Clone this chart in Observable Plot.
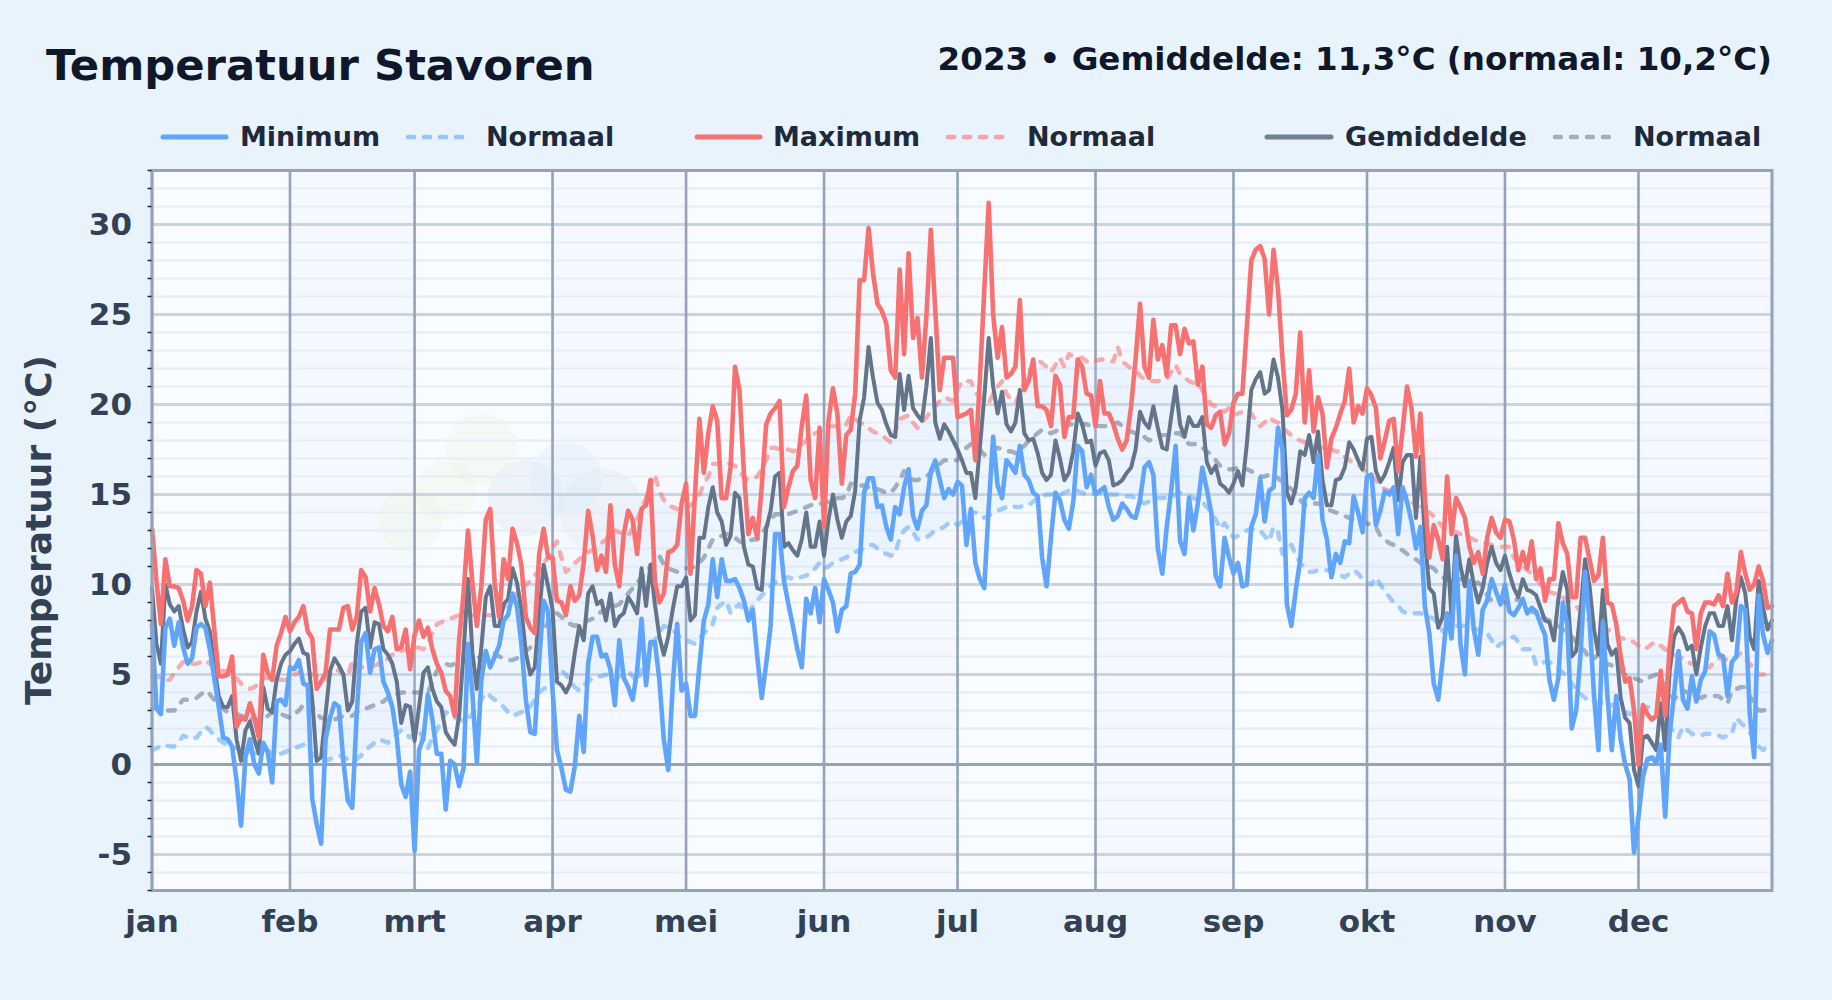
<!DOCTYPE html>
<html lang="nl">
<head>
<meta charset="utf-8">
<title>Temperatuur Stavoren</title>
<script src="https://cdn.jsdelivr.net/npm/d3@7"></script>
<script src="https://cdn.jsdelivr.net/npm/@observablehq/plot@0.6"></script>
<style>
html,body{margin:0;padding:0;width:1832px;height:1000px;overflow:hidden;background:#e9f3fc;font-family:"DejaVu Sans",sans-serif;font-weight:700}
#page{position:relative;width:1832px;height:1000px}
#title{position:absolute;left:46px;top:39px;font-size:43.3px;line-height:52px;color:#0f172a;white-space:nowrap}
#subtitle{position:absolute;right:60px;top:38px;font-size:32.55px;line-height:42px;color:#0f172a;white-space:nowrap}
.lab{position:absolute;top:121px;font-size:27px;line-height:32px;color:#1e293b;white-space:nowrap}
.sw{position:absolute;top:128px;height:18px;overflow:visible}
#ylabel{position:absolute;left:39px;top:530px;font-size:36px;line-height:40px;color:#334155;white-space:nowrap;transform:translate(-50%,-50%) rotate(-90deg)}
#chart{position:absolute;left:0;top:150px}
</style>
</head>
<body>
<div id="page">
<div id="title"></div>
<div id="subtitle"></div>
<div id="legend"></div>
<div id="chart"></div>
<div id="ylabel"></div>
</div>
<script>
const titleText = "Temperatuur Stavoren";
const subtitleText = "2023 • Gemiddelde: 11,3°C (normaal: 10,2°C)";
const yLabel = "Temperatuur (°C)";
const monthLabels = ["jan","feb","mrt","apr","mei","jun","jul","aug","sep","okt","nov","dec"];
const majorTicks = [-5,0,5,10,15,20,25,30];
const minorTicks = [-7,-6,-4,-3,-2,-1,1,2,3,4,6,7,8,9,11,12,13,14,16,17,18,19,21,22,23,24,26,27,28,29,31,32,33];

const minimum = [
7.8,3.1,2.8,7.6,8.1,6.6,7.9,6.5,5.6,5.9,
7.6,7.8,7.6,6.4,4.8,3.2,1.5,1.4,1.0,-0.9,
-3.4,0.4,1.4,0.0,-0.5,1.2,0.7,-1.0,3.5,3.6,
3.3,5.4,5.3,5.8,4.5,4.4,-1.9,-3.3,-4.4,1.4,
2.6,3.4,3.2,0.2,-2.0,-2.4,2.8,6.8,7.3,5.1,
6.4,6.5,4.6,4.0,3.2,1.5,-1.1,-1.8,-0.4,-4.8,
0.8,1.5,3.9,2.5,0.6,0.6,-2.5,0.2,0.0,-1.2,
-0.2,6.7,3.9,0.1,4.7,6.3,5.4,6.0,6.6,8.0,
8.3,9.5,8.8,6.7,3.6,1.8,1.7,5.8,9.1,8.5,
4.1,0.8,-0.2,-1.4,-1.5,-0.1,2.7,0.7,5.6,7.1,
7.1,6.0,6.1,5.3,3.3,6.9,4.8,4.3,3.6,5.2,
8.1,4.4,6.8,6.8,4.7,1.4,-0.3,4.4,7.8,4.1,
4.5,2.7,2.7,5.5,8.0,8.9,11.4,9.3,11.4,10.2,
10.2,10.3,9.8,9.1,8.0,8.6,6.0,3.7,5.6,7.7,
12.8,12.8,10.2,8.9,7.7,6.4,5.4,9.2,8.4,9.8,
7.9,10.3,9.7,9.0,7.4,8.6,8.8,10.6,10.7,11.1,
15.1,15.9,15.9,14.3,14.4,13.2,12.5,14.3,13.9,15.4,
16.4,13.8,13.1,14.1,14.4,16.3,16.9,15.8,14.8,15.3,
15.0,15.7,15.5,12.2,14.2,11.2,10.3,9.8,14.3,18.2,
15.5,14.8,16.9,16.6,16.2,17.7,16.1,15.8,15.1,14.9,
11.5,9.9,12.6,15.1,14.7,13.6,13.1,14.6,17.7,17.4,
15.4,16.1,15.0,15.2,15.4,14.3,13.6,13.8,14.5,14.2,
13.8,13.7,14.7,16.5,16.8,16.1,12.0,10.6,13.2,15.2,
17.7,12.4,11.7,14.8,13.0,14.5,16.5,15.3,14.0,10.5,
9.9,12.6,11.5,10.6,11.2,9.9,10.0,13.2,13.9,15.9,
13.5,15.2,15.4,18.7,17.5,8.9,7.7,9.7,11.4,14.8,
15.1,14.8,17.2,13.6,12.5,10.4,11.7,11.2,12.4,12.3,
14.9,14.0,12.9,16.0,16.1,13.3,14.1,15.2,15.0,15.4,
12.8,15.4,14.6,13.5,12.0,13.2,8.8,7.3,4.5,3.6,
5.8,8.4,7.0,11.6,6.7,5.0,10.2,7.5,6.1,8.6,
9.1,10.3,9.6,8.9,10.0,8.5,8.3,8.7,9.2,8.4,
8.7,8.5,7.8,7.2,4.7,3.6,4.8,9.0,7.8,2.0,
3.0,6.2,10.7,8.0,3.9,0.8,7.9,3.9,0.8,3.8,
1.4,0.0,-0.8,-4.9,-2.9,-0.7,0.3,0.4,0.1,1.1,
-2.9,1.7,3.9,6.3,3.6,3.1,4.9,3.5,4.7,5.2,
7.4,7.2,6.1,6.0,3.8,5.7,6.0,8.8,8.6,2.8,
0.4,9.4,7.2,6.2,6.9];

const maximum = [
13.1,10.2,7.8,11.4,9.9,9.9,9.8,9.1,8.0,8.8,
10.8,10.6,8.8,10.1,7.5,4.9,4.9,5.0,6.0,2.1,
2.6,2.5,3.4,2.6,1.5,6.1,5.1,4.7,6.6,7.3,
8.2,7.4,7.9,8.2,8.8,7.4,7.0,4.2,4.6,5.1,
7.5,7.5,7.5,8.7,8.8,7.5,8.2,10.8,10.4,8.5,
9.8,8.9,7.7,7.4,8.2,6.4,6.5,7.5,5.3,7.2,
8.0,7.1,7.6,6.4,5.6,5.1,4.1,3.8,2.7,6.9,
9.5,13.0,10.1,7.7,9.9,13.6,14.2,10.1,8.2,11.4,
10.3,13.1,12.3,11.1,8.2,7.6,7.3,11.7,13.1,11.5,
11.5,9.1,9.0,8.3,9.9,9.1,9.4,11.2,14.1,12.7,
10.8,11.6,10.7,14.4,11.1,9.9,12.8,14.1,13.6,11.7,
14.2,14.4,15.8,10.2,9.0,9.5,11.8,11.9,12.2,14.5,
15.6,10.6,15.0,19.2,16.2,18.4,19.9,19.1,14.8,14.8,
16.5,22.1,20.8,16.2,12.8,13.7,12.6,15.4,18.9,19.5,
19.8,20.2,14.3,15.4,16.3,16.6,18.8,20.5,15.8,14.8,
18.7,13.2,19.1,20.9,19.5,15.6,18.3,18.6,20.6,26.9,
26.9,29.8,27.3,25.6,25.2,24.5,21.9,21.5,27.5,22.8,
28.4,23.7,24.8,21.5,24.9,29.7,25.2,20.8,22.6,22.6,
22.6,19.3,19.4,19.5,19.7,16.9,21.3,26.3,31.2,25.0,
22.6,24.3,21.5,21.7,22.1,25.8,20.8,21.3,22.5,19.9,
19.9,19.7,18.8,21.6,21.1,18.2,19.3,19.3,22.5,22.1,
20.6,20.5,18.8,21.3,19.5,19.5,18.9,18.1,17.5,18.0,
19.9,22.5,25.6,22.1,21.5,24.7,22.5,23.3,21.6,24.4,
24.4,22.8,24.2,23.4,23.5,21.1,22.1,18.9,18.7,19.4,
19.6,17.8,18.4,20.1,20.6,20.6,24.3,28.0,28.6,28.8,
28.1,25.0,28.6,26.4,22.6,19.4,19.7,20.6,24.0,19.0,
21.9,18.5,20.4,19.5,16.5,18.1,18.7,19.5,20.2,22.0,
19.0,19.9,19.5,20.9,20.5,19.8,17.0,18.0,19.1,19.2,
16.3,18.6,21.0,19.8,17.1,19.5,14.9,11.5,13.3,12.5,
11.4,16.0,12.8,14.8,14.3,13.7,12.1,11.2,11.8,10.6,
12.6,13.7,12.9,12.6,13.6,13.5,12.5,10.8,11.8,10.9,
12.4,10.3,10.9,9.1,10.3,10.3,13.4,12.3,11.7,9.3,
9.3,12.6,12.6,11.4,10.2,10.5,12.6,9.0,8.9,7.8,
6.0,4.6,4.8,3.0,0.0,3.3,2.8,2.5,2.7,5.2,
2.7,6.5,8.8,9.0,9.2,8.5,8.4,6.4,8.4,9.0,
9.0,8.9,9.4,8.8,10.6,9.0,9.6,11.8,10.6,9.7,
10.0,11.0,10.2,8.7,8.8];

const gemiddelde = [
9.8,6.7,5.6,10.0,8.9,8.5,8.8,7.5,6.5,6.8,
8.5,9.6,8.1,7.4,5.4,3.8,3.2,3.2,3.8,1.4,
0.2,1.9,2.4,1.4,0.6,4.3,3.1,2.9,4.7,5.6,
6.1,6.3,6.7,7.0,6.2,6.1,3.6,0.2,0.4,2.8,
5.2,5.9,5.5,5.0,3.0,3.5,6.7,8.5,8.7,6.5,
7.9,7.8,6.4,6.1,5.6,4.6,2.3,3.3,3.2,1.3,
3.2,5.1,5.4,4.2,3.5,3.2,1.8,1.4,1.1,2.7,
6.2,10.3,6.2,4.2,6.5,9.3,9.9,7.7,7.7,8.9,
9.2,10.9,10.1,8.6,6.2,5.0,5.4,8.4,11.1,9.9,
8.6,4.6,4.4,4.0,4.5,6.2,7.7,6.9,9.5,9.9,
8.9,9.1,8.0,9.5,7.7,8.2,8.4,9.3,8.9,8.4,
10.9,8.8,11.1,8.9,7.1,6.1,7.1,8.6,9.9,9.9,
10.4,8.0,8.3,12.6,12.6,14.3,15.4,14.0,13.5,12.2,
12.7,15.1,14.8,12.1,11.1,11.0,9.8,9.7,13.1,14.1,
16.0,16.2,12.1,12.3,11.9,11.6,12.5,14.0,12.1,12.1,
13.5,11.6,13.6,15.0,13.6,12.6,13.5,13.8,15.2,19.1,
20.4,23.2,21.5,20.1,19.7,18.9,18.3,18.2,21.7,19.7,
21.6,19.8,19.4,19.1,21.0,23.7,19.0,18.1,18.9,18.5,
18.0,17.5,16.9,16.2,16.2,14.8,17.6,20.4,23.7,21.0,
19.5,20.7,18.9,18.5,19.0,20.8,18.4,18.0,18.1,17.3,
16.2,15.8,16.1,18.0,17.0,15.8,16.2,17.4,19.5,18.9,
17.9,18.0,16.6,17.3,17.4,16.9,15.5,15.6,15.8,16.2,
16.5,17.5,19.6,19.0,18.7,19.9,18.7,17.6,17.5,19.3,
21.0,18.9,18.2,19.3,18.8,18.8,19.3,16.8,16.2,16.6,
15.6,15.4,15.1,15.6,16.3,15.5,17.8,20.8,21.4,21.8,
20.6,20.8,22.5,21.5,19.7,15.1,14.5,15.4,17.4,17.2,
18.3,16.8,18.5,15.8,14.4,14.4,15.8,15.9,16.5,17.9,
17.5,16.9,16.4,18.1,18.2,16.3,15.7,16.1,16.8,17.6,
14.7,16.8,17.2,17.2,13.7,17.1,12.5,9.8,9.5,7.6,
8.2,12.1,8.2,12.7,11.0,9.9,11.4,10.0,9.0,9.8,
11.2,12.1,11.2,10.8,11.6,10.6,9.8,9.3,10.3,9.7,
9.6,9.4,8.7,8.0,7.9,6.9,9.2,10.7,9.7,6.0,
6.3,8.6,11.4,9.9,7.5,6.1,9.7,6.7,6.1,6.4,
3.7,2.6,2.3,-0.3,-1.2,1.5,1.6,1.2,0.8,3.4,
0.8,5.2,7.1,7.6,7.2,6.4,6.6,5.0,6.5,7.7,
8.4,8.4,7.7,7.7,8.8,6.9,9.2,10.4,9.5,7.1,
6.4,10.2,8.7,7.5,8.0];

const normaalMin = [
0.8,0.9,1.0,1.1,1.0,1.0,1.2,1.6,1.5,1.4,
1.5,1.8,2.1,1.9,1.6,1.4,1.2,1.1,1.0,0.9,
0.8,0.7,0.7,0.6,0.7,0.7,0.8,0.6,0.5,0.6,
0.7,0.8,0.9,1.0,1.1,0.8,0.6,0.4,0.3,0.2,
0.3,0.4,0.5,0.4,0.3,0.2,0.3,0.5,0.8,1.0,
1.2,1.4,1.3,1.2,1.4,1.7,1.9,1.7,1.5,1.7,
1.9,1.4,0.9,1.5,1.9,2.4,2.9,2.8,2.6,2.5,
2.4,2.5,2.8,3.2,3.6,4.0,3.8,3.6,3.4,3.2,
2.9,2.7,2.8,2.9,3.0,3.2,3.6,4.0,4.2,4.3,
4.4,4.8,5.2,5.0,4.6,4.3,4.1,4.4,4.6,4.8,
4.9,4.9,5.0,4.9,4.9,4.9,5.0,5.2,4.9,4.6,
5.2,5.8,6.4,6.9,7.3,7.7,7.6,7.5,7.2,7.0,
6.9,6.8,6.7,7.0,7.3,7.5,7.8,8.7,8.9,9.1,
8.4,8.7,8.9,8.6,8.4,8.8,9.1,9.4,9.6,9.9,
10.1,10.3,10.3,10.4,10.3,10.4,10.4,10.5,10.6,10.9,
11.2,10.9,11.0,11.2,11.3,11.4,11.5,11.7,11.8,11.9,
12.0,12.2,12.2,12.0,11.8,11.7,11.6,11.7,12.6,13.0,
13.2,12.9,12.5,12.5,12.6,12.8,13.0,13.1,13.2,13.4,
13.5,13.3,13.5,13.7,13.9,14.0,13.9,13.7,13.8,14.0,
14.1,14.2,14.3,14.4,14.3,14.3,14.4,14.4,14.6,14.8,
14.9,15.0,15.0,15.0,15.0,15.1,15.2,15.3,15.2,15.1,
15.0,15.0,15.1,15.1,15.0,15.0,15.0,15.0,15.0,14.9,
14.9,14.8,14.6,14.5,14.6,14.7,14.8,14.8,14.8,14.8,
15.0,15.1,15.0,14.9,14.8,14.7,14.6,14.3,14.0,13.6,
13.1,13.4,13.0,12.6,12.7,12.9,13.0,13.1,13.0,13.0,
12.7,12.4,13.2,12.9,11.7,12.0,12.2,11.6,11.2,10.9,
10.7,10.7,10.8,10.8,10.8,10.7,10.6,10.5,10.4,10.6,
10.8,10.6,10.3,10.1,10.0,10.4,10.0,9.6,9.3,9.0,
8.8,8.5,8.4,8.4,8.4,8.4,8.3,8.2,8.1,7.8,
7.4,7.5,7.6,7.7,7.7,7.7,7.6,7.5,7.5,7.4,
7.3,6.9,6.5,6.7,6.8,7.0,7.1,6.8,6.4,6.4,
6.4,5.5,5.6,5.7,5.7,5.5,5.3,5.1,4.9,4.5,
4.1,3.9,3.7,3.5,3.4,3.4,3.4,3.4,3.3,3.2,
3.0,2.9,2.8,2.9,3.0,3.1,3.2,3.1,3.0,2.7,
2.4,2.1,1.8,1.5,2.1,1.9,1.7,1.6,1.6,1.7,
1.7,1.7,1.6,1.5,1.6,1.7,2.6,2.3,2.1,1.8,
1.4,1.0,0.8,1.0,1.1];

const normaalMax = [
4.9,4.9,4.8,4.7,4.7,5.1,5.4,5.7,5.7,5.6,
5.6,5.7,5.8,5.6,5.4,5.3,5.2,5.2,5.1,4.8,
4.5,4.3,4.2,4.3,4.5,4.8,4.8,4.8,4.8,4.7,
4.7,4.8,5.0,5.1,5.2,5.1,5.0,4.9,4.8,4.7,
5.0,5.3,5.2,5.0,4.9,5.8,5.6,5.4,5.4,5.5,
5.5,5.6,5.7,5.9,6.1,6.3,6.3,6.4,6.4,6.5,
6.5,6.4,6.7,7.3,7.8,7.9,8.0,8.1,8.2,8.3,
8.4,8.3,8.3,8.3,8.3,8.3,8.3,8.3,8.5,8.7,
9.0,9.2,9.5,9.8,10.0,10.2,10.5,10.8,11.2,11.5,
12.0,12.4,11.5,10.7,10.9,11.2,11.4,11.6,11.8,11.9,
12.1,12.3,12.5,12.8,13.0,12.9,12.8,12.7,13.1,13.6,
14.2,14.8,15.5,16.1,15.2,14.7,14.4,14.3,14.2,14.2,
14.3,14.4,14.6,15.0,15.6,16.0,16.7,16.7,16.8,16.8,
16.7,16.6,16.3,16.0,15.8,15.9,16.0,16.4,16.9,17.6,
17.6,17.5,17.5,17.5,17.4,17.5,17.8,18.0,18.3,18.4,
18.5,18.7,18.8,18.8,18.8,18.9,18.9,19.4,19.2,19.0,
18.9,18.7,18.5,18.4,18.3,18.1,17.9,18.5,19.2,19.3,
19.4,19.0,18.7,19.0,19.3,19.6,19.9,20.2,20.4,20.3,
20.2,20.8,21.3,21.3,21.3,20.7,20.4,20.2,20.1,20.6,
21.0,21.3,20.6,20.3,20.1,20.6,21.2,21.8,22.2,22.5,
22.3,22.1,21.8,22.2,22.6,22.1,22.8,22.7,22.6,22.6,
22.4,22.3,22.4,22.5,22.5,22.4,22.4,23.2,22.4,22.2,
22.0,21.9,21.6,21.4,21.3,21.3,21.3,21.4,21.4,21.8,
22.2,21.7,21.5,21.3,21.2,21.2,20.8,20.4,20.0,19.9,
19.8,19.6,19.8,19.4,19.5,19.6,19.7,19.5,19.1,18.8,
19.0,19.3,19.1,19.0,18.7,18.5,18.3,18.1,18.0,17.9,
17.8,17.7,17.6,17.6,17.5,17.5,17.4,17.4,17.1,16.9,
16.8,16.7,16.4,16.2,16.0,15.8,15.5,15.3,15.2,15.2,
15.1,15.1,14.9,14.6,14.4,14.3,14.1,14.0,13.8,13.5,
13.2,13.1,13.0,12.9,12.8,12.7,12.6,12.5,12.4,12.3,
12.3,12.2,12.2,12.1,12.1,12.1,11.5,11.2,11.0,10.8,
10.6,10.4,10.0,9.7,9.6,9.5,9.5,9.3,9.1,9.0,
8.8,8.5,8.2,8.0,7.8,7.6,7.5,7.5,7.4,7.2,
7.0,7.0,6.9,6.8,6.6,6.4,6.5,6.7,6.8,6.6,
6.4,6.3,6.1,6.0,5.9,5.7,5.6,5.6,5.5,5.5,
5.4,5.7,5.9,5.9,5.8,5.8,6.0,6.2,5.9,5.6,
5.3,5.0,5.0,5.0,5.0];

const normaalGem = [
3.1,3.2,3.1,3.0,3.0,3.0,3.3,3.6,3.6,3.6,
3.7,3.9,4.1,3.9,3.6,3.3,3.1,2.9,2.9,2.8,
2.7,2.7,2.6,2.5,2.5,2.5,2.7,2.9,2.9,2.8,
2.7,2.6,2.8,3.0,3.3,3.5,3.2,2.8,2.6,2.5,
2.5,2.5,2.6,2.7,2.7,2.7,2.9,3.0,3.1,3.2,
3.3,3.4,3.5,3.7,3.8,3.9,4.0,4.0,4.0,4.0,
4.0,3.9,4.0,4.6,5.2,5.5,5.6,5.5,5.6,5.7,
5.7,5.8,5.9,5.9,6.0,6.1,6.2,6.2,6.0,5.9,
5.8,5.8,5.9,6.1,6.3,6.5,6.7,7.1,7.5,7.9,
8.2,8.4,8.2,8.0,7.8,7.7,7.8,7.9,8.0,8.1,
8.3,8.5,8.6,8.7,8.8,8.9,9.2,9.5,9.8,10.1,
10.4,10.7,11.0,11.3,11.6,11.1,10.9,10.8,10.7,10.8,
10.9,10.9,11.0,11.2,11.5,12.0,12.5,12.6,12.7,12.8,
12.8,12.6,12.4,12.3,12.4,12.5,12.5,12.8,13.2,13.6,
13.9,13.9,13.9,13.9,14.0,14.1,14.2,14.3,14.4,14.5,
14.5,14.5,14.6,14.7,14.8,14.8,14.9,15.6,15.6,15.5,
15.5,15.4,15.3,15.3,15.2,15.1,15.1,15.4,15.8,16.3,
16.1,15.8,15.8,15.9,16.0,16.2,16.5,16.7,16.9,16.9,
16.9,16.9,17.4,17.6,17.8,17.7,17.5,17.2,17.3,17.5,
17.6,17.5,17.4,17.4,17.3,17.5,17.7,18.0,18.2,18.4,
18.6,18.5,18.4,18.5,18.7,18.8,18.9,18.9,18.9,18.9,
18.9,18.8,18.8,18.8,18.8,18.8,18.9,19.0,18.8,18.6,
18.5,18.4,18.3,18.2,18.0,18.1,18.2,18.3,18.3,18.3,
18.4,18.4,18.1,17.8,17.8,17.8,17.6,17.4,17.2,16.9,
16.6,16.5,16.4,16.4,16.5,16.5,16.4,16.3,16.1,16.0,
16.0,16.1,16.1,15.9,15.7,15.5,15.3,15.1,14.7,14.4,
14.4,14.5,14.5,14.4,14.2,14.1,14.0,13.9,13.8,13.7,
13.6,13.6,13.5,13.4,13.3,13.2,12.7,12.5,12.3,12.2,
12.0,11.9,11.7,11.5,11.4,11.2,11.1,11.0,10.9,10.6,
10.4,10.3,10.2,10.2,10.3,10.3,10.2,10.1,10.1,9.9,
9.4,9.1,9.1,9.1,9.0,9.0,9.1,9.2,8.9,8.6,
8.5,8.4,8.2,8.1,8.0,7.8,7.7,7.5,7.3,7.1,
6.8,6.5,6.3,5.8,5.9,6.1,5.8,5.6,5.5,5.3,
5.2,5.0,4.9,4.8,4.7,4.6,4.8,4.9,5.0,4.7,
4.4,4.0,3.6,3.9,4.1,4.0,3.8,3.7,3.7,3.8,
3.8,3.8,3.8,3.6,3.4,4.1,4.2,4.3,4.3,3.8,
3.4,3.0,3.0,3.1,3.1];

const legendItems = [
  {label:"Minimum", color:"#60a5fa", dashed:false, x1:161, x2:228, tx:240},
  {label:"Normaal", color:"#60a5fa", dashed:true,  x1:406, x2:466, tx:486},
  {label:"Maximum", color:"#f87171", dashed:false, x1:695, x2:762, tx:773},
  {label:"Normaal", color:"#f87171", dashed:true,  x1:946, x2:1008, tx:1027},
  {label:"Gemiddelde", color:"#718096", dashed:false, x1:1265, x2:1333, tx:1345},
  {label:"Normaal", color:"#718096", dashed:true,  x1:1553, x2:1620, tx:1633}
];

// Faint background logo blobs (day of year, temperature, radius)
const blobDays = [74,58,66,84,101,93];
const blobTemps = [17.5,13.6,15.2,14.8,14.1,15.9];
const blobRadii = [36,32,30,38,42,36];
const blobFills = ["#eaf6dc","#eaf6dc","#eaf6dc","#d3e0ef","#d3e0ef","#d2e9fb"];

const dates = d3.utcDay.range(new Date(Date.UTC(2023,0,1)), new Date(Date.UTC(2024,0,1)));
const rows = dates.map((date,i) => ({date, min:minimum[i], max:maximum[i], avg:gemiddelde[i], nmin:normaalMin[i], nmax:normaalMax[i], navg:normaalGem[i]}));
const monthStarts = d3.utcMonth.range(new Date(Date.UTC(2023,0,1)), new Date(Date.UTC(2024,0,1)));
const endDate = dates[dates.length-1];
const bands = monthStarts.map((d,i)=>({x1:d, x2:i<11?monthStarts[i+1]:endDate, on:i%2===1})).filter(d=>d.on);
const blobs = blobDays.map((d,i)=>({date:dates[d], t:blobTemps[i], r:blobRadii[i], fill:blobFills[i]}));

document.getElementById("title").textContent = titleText;
document.getElementById("subtitle").textContent = subtitleText;
document.getElementById("ylabel").textContent = yLabel;
const legend = document.getElementById("legend");
for (const it of legendItems) {
  const w = it.x2 - it.x1;
  const ns = "http://www.w3.org/2000/svg";
  const s = document.createElementNS(ns,"svg");
  s.setAttribute("class","sw");
  s.setAttribute("width",w); s.setAttribute("height",18);
  s.style.left = it.x1 + "px";
  const l = document.createElementNS(ns,"line");
  l.setAttribute("x1",2); l.setAttribute("x2",w-2); l.setAttribute("y1",9); l.setAttribute("y2",9);
  l.setAttribute("stroke",it.color);
  l.setAttribute("stroke-width",it.dashed?4.5:5);
  l.setAttribute("stroke-linecap","round");
  if (it.dashed) { l.setAttribute("stroke-dasharray","6 10"); l.setAttribute("stroke-opacity",0.6); }
  s.appendChild(l); legend.appendChild(s);
  const t = document.createElement("div");
  t.className = "lab"; t.textContent = it.label; t.style.left = it.tx + "px";
  legend.appendChild(t);
}

const dashed = {strokeWidth:4.4, strokeOpacity:0.55, strokeDasharray:"7 10", strokeLinecap:"round", strokeLinejoin:"round"};
const solid = {strokeWidth:4.6, strokeLinejoin:"round", strokeLinecap:"round"};

const chart = Plot.plot({
  width:1832, height:800,
  marginLeft:151.5, marginRight:60.5, marginTop:20, marginBottom:60,
  style:{background:"transparent", fontFamily:"'DejaVu Sans',sans-serif"},
  x:{type:"utc", domain:[dates[0], endDate]},
  y:{domain:[-7,33]},
  r:{type:"identity"},
  marks:[
    Plot.rect([{}],{x1:dates[0], x2:endDate, y1:-7, y2:33, fill:"#f8fbff"}),
    Plot.rect(bands,{x1:"x1", x2:"x2", y1:-7, y2:33, fill:"#e6eefb", fillOpacity:0.16}),
    Plot.dot(blobs,{x:"date", y:"t", r:"r", fill:"fill", fillOpacity:0.28, stroke:"none"}),
    Plot.ruleY(minorTicks.filter(d=>d>-7&&d<33),{y:d=>d, stroke:"#e7edf4", strokeWidth:2}),
    Plot.ruleY(majorTicks.filter(d=>d!==0),{y:d=>d, stroke:"#c8d4e3", strokeWidth:3}),
    Plot.ruleX(monthStarts,{x:d=>d, stroke:"#94a3b8", strokeWidth:2.6}),
    Plot.ruleY([0],{y:d=>d, stroke:"#94a3b8", strokeWidth:3}),
    Plot.areaY(rows,{x:"date", y1:"nmin", y2:"nmax", fill:"#bfdbfe", fillOpacity:0.18, curve:"linear"}),
    Plot.line(rows,{x:"date", y:"nmin", stroke:"#60a5fa", ...dashed}),
    Plot.line(rows,{x:"date", y:"nmax", stroke:"#f87171", ...dashed}),
    Plot.line(rows,{x:"date", y:"navg", stroke:"#64748b", ...dashed}),
    Plot.line(rows,{x:"date", y:"avg", stroke:"#64748b", ...solid, strokeWidth:4}),
    Plot.line(rows,{x:"date", y:"min", stroke:"#60a5fa", ...solid}),
    Plot.line(rows,{x:"date", y:"max", stroke:"#f87171", ...solid}),
    Plot.frame({stroke:"#94a3b8", strokeWidth:3}),
    Plot.tickY(minorTicks,{y:d=>d, stroke:"#1e293b", strokeWidth:1.5, insetLeft:-4, insetRight:1620}),
    Plot.axisY({ticks:majorTicks, tickSize:0, tickPadding:20, fontSize:31, fontWeight:700, color:"#334155", tickFormat:d=>String(d), label:null, dy:1}),
    Plot.axisX({ticks:monthStarts, tickFormat:(d,i)=>monthLabels[i], tickSize:0, tickPadding:19, fontSize:31, fontWeight:700, color:"#334155", label:null})
  ]
});
document.getElementById("chart").appendChild(chart);
</script>
</body>
</html>
